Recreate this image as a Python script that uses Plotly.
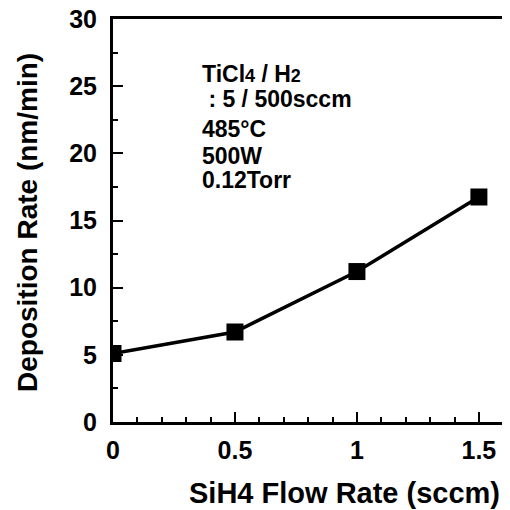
import plotly.graph_objects as go

sih4_flow = [0, 0.5, 1.0, 1.5]
dep_rate = [5.1, 6.7, 11.2, 16.75]

x_tickvals = [0, 0.5, 1, 1.5]
x_ticktext = ["0", "0.5", "1", "1.5"]
y_tickvals = [0, 5, 10, 15, 20, 25, 30]

x_title = "SiH4 Flow Rate (sccm)"
y_title = "Deposition Rate (nm/min)"
SM = '<span style="font-size:18px">%s</span>'
cond_lines = ["TiCl" + SM % "4" + " / H" + SM % "2", "&nbsp;: 5 / 500sccm", "485°C", "500W", "0.12Torr"]
cond_y_px = [74, 99, 129, 156, 180]

FONT = "Liberation Sans, Arial, sans-serif"

# page body has an 8px margin; compensate so the plot lands where the reference has it
OFF = 8
L, R, T, B = 113 - OFF, 13, 19 - OFF, 96
W = H = 510
PW, PH = W - L - R, H - T - B


def px_x(sx):
    return (sx - 113) / PW


def px_y(sy):
    return 1 - (sy - 19) / PH


fig = go.Figure()
fig.add_trace(go.Scatter(
    x=sih4_flow, y=dep_rate, mode="lines+markers",
    line=dict(color="black", width=3.5),
    marker=dict(symbol="square", size=17, color="black"),
    showlegend=False,
))

fig.update_layout(
    width=W, height=H,
    margin=dict(l=L, r=R, t=T, b=B, autoexpand=False),
    paper_bgcolor="white", plot_bgcolor="white",
    font=dict(family=FONT, color="black"),
    xaxis=dict(
        range=[0, 1.607], tickvals=x_tickvals, ticktext=x_ticktext,
        ticks="inside", ticklen=10, tickwidth=2, tickcolor="black",
        minor=dict(dtick=0.1, ticks="inside", ticklen=5, tickwidth=1.5, tickcolor="black"),
        showline=True, linecolor="black", linewidth=3, mirror=True,
        showgrid=False, zeroline=False, automargin=False,
        tickfont=dict(size=25, family=FONT, weight="bold"),
        ticklabelstandoff=4, ticklabeloverflow="allow",
    ),
    yaxis=dict(
        range=[0, 30], tickvals=y_tickvals,
        ticks="inside", ticklen=10, tickwidth=2, tickcolor="black",
        minor=dict(dtick=2.5, ticks="inside", ticklen=5, tickwidth=1.5, tickcolor="black"),
        showline=True, linecolor="black", linewidth=3, mirror=True,
        showgrid=False, zeroline=False, automargin=False,
        tickfont=dict(size=25, family=FONT, weight="bold"),
        ticklabelstandoff=8, ticklabeloverflow="allow",
    ),
)

# axis titles (placed where the reference has them)
fig.add_annotation(
    text="<b>" + x_title + "</b>", xref="paper", yref="paper",
    x=px_x(344), y=px_y(493), xanchor="center", yanchor="middle", showarrow=False,
    font=dict(size=29, family=FONT, color="black"),
)
fig.add_annotation(
    text="<b>" + y_title + "</b>", xref="paper", yref="paper", textangle=-90,
    x=px_x(27), y=px_y(223), xanchor="center", yanchor="middle", showarrow=False,
    font=dict(size=28, family=FONT, color="black"),
)

for txt, yp in zip(cond_lines, cond_y_px):
    fig.add_annotation(
        text="<b>" + txt + "</b>", xref="paper", yref="paper",
        x=px_x(200), y=px_y(yp),
        xanchor="left", yanchor="middle", showarrow=False,
        font=dict(size=23, family=FONT, color="black"),
    )

fig.write_html("out.html")
